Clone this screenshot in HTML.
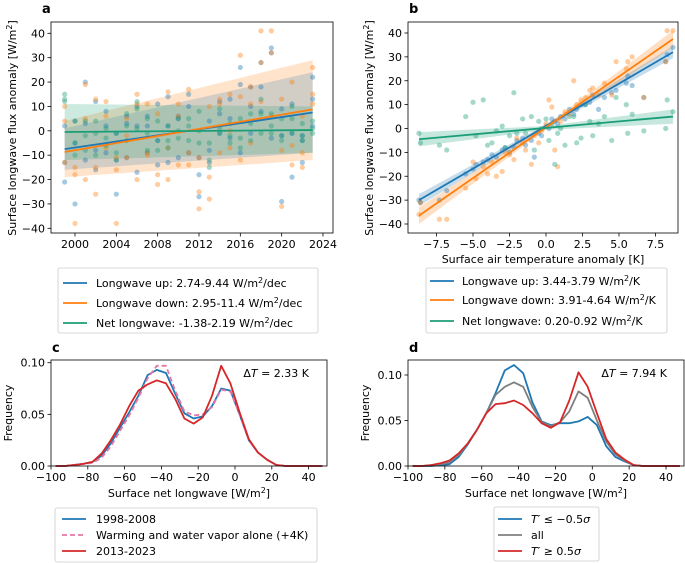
<!DOCTYPE html>
<html><head><meta charset="utf-8">
<style>
html,body{margin:0;padding:0;background:#fff;}
svg{display:block;font-family:"DejaVu Sans","Liberation Sans",sans-serif;}
</style></head>
<body>
<svg id="fig" width="685" height="563" viewBox="0 0 685 563" xmlns="http://www.w3.org/2000/svg"></svg>
<script>
// ---------- Panel a data ----------
const aYears = [1999,2000,2001,2002,2003,2004,2005,2006,2007,2008,2009,2010,2011,2012,2013,2014,2015,2016,2017,2018,2019,2020,2021,2022,2023];
const aUp = [[2,-21,-13],[-30,-5,4],[20,-12,3],[12,-16,-8],[8,-9,2],[-26,-12,-1],[3,-11,6],[-17,2,10],[6,-9,2],[11,-14,-4],[14,-13,2],[5,-11,6],[15,-9,10],[-18,-27,-11],[-13,4,-8],[12,-1,7],[13,5,-3],[26,19,-9],[18,-1,10],[28,18,8],[34,32,-3],[9,-29,-2],[11,-19,-1],[-13,-4,-2],[22,13,2]];
const aDown = [[10,-13,4],[-38,-18,-15],[19,-20,5],[13,-26,-15],[12,-7,6],[-38,-16,-11],[5,-11,-2],[15,-20,11],[11,-9,-10],[7,-22,-18],[16,-20,-7],[11,-14,6],[17,-14,-9],[-25,-32,-11],[-28,-19,10],[13,11,-9],[15,0,-7],[31,14,-12],[18,11,-5],[41,28,12],[41,32,6],[-31,13,-8],[20,-14,-6],[-15,-9,6],[26,15,11]];
const aNet = [[13,15,12],[4,-10,-5],[4,-2,-8],[4,-10,-1],[1,-3,-6],[-9,-12,-1],[7,2,-4],[12,9,1],[5,-8,-1],[4,-8,-4],[2,-7,-4],[5,-3,0],[5,2,-4],[8,-5,0],[-15,-12,-5],[9,-1,1],[3,-5,-2],[5,-7,-3],[3,-4,7],[13,7,-1],[2,-1,7],[-2,5,-4],[10,5,-1],[-4,-2,3],[4,-1,1]];
const aFitYears = [1999,2023];
const aFitUp = [-7.5,7.5];
const aFitDown = [-8.7,8.8];
const aFitNet = [-0.5,0.3];
const aBandUpLo = [-16,-9], aBandUpHi = [1,24];
const aBandDownLo = [-19,-12], aBandDownHi = [4,29];
const aBandNetLo = [-12,-9], aBandNetHi = [11,10];
const aXTicks = [2000,2004,2008,2012,2016,2020,2024];
const fluxTicks = [-40,-30,-20,-10,0,10,20,30,40];

// ---------- Panel b data ----------
const bT = [-8.7,-8.6,-7.3,-6.8,-5.5,-5.0,-4.8,-4.3,-4.0,-3.7,-3.4,-3.0,-2.8,-2.5,-2.2,-2.0,-1.6,-1.4,-1.0,-0.8,-0.5,-0.3,0,0.2,0.4,0.6,0.8,1.0,1.3,1.6,1.9,2.1,2.4,2.7,3.0,3.2,3.6,4.0,4.5,4.8,5.5,5.6,5.9,6.7,8.2,8.3,8.7];
const bUp = [-30,-31,-30,-26,-19,-17,-15,-14,-13,-11,-12,-9,-8,-10,-8,-5,-4,-7,-5,-12,-2,-3,1,0,4,3,2,5,4,8,6,8,10,10,11,14,8,13,15,16,19,22,18,13,28,31,34];
const bDown = [-36,-31,-38,-38,-25,-14,-21,-16,-19,-14,-20,-18,-10,-11,-13,-4,-6,-9,-15,-3,-6,-1,2,12,9,-9,-16,3,7,6,20,10,12,13,16,17,14,19,14,28,25,28,30,13,28,41,41];
const bNet = [-2,-6,-7,-9,5,11,-3,12,-7,-6,-1,1,-8,-3,15,-2,4,-2,5,-9,3,0,4,-5,2,-15,-2,0,-7,5,5,-6,-4,10,3,-3,2,5,-5,13,10,-2,6,-1,0,12,7];
const bFitT = [-8.7,8.7];
const bFitUp = [-30,32];
const bFitDown = [-36.5,37.5];
const bFitNet = [-4.5,5];
const bBandW = [2.5,3.5,3];
const bXTicks = [-7.5,-5.0,-2.5,0.0,2.5,5.0,7.5];

// ---------- Panels c/d data ----------
const binCenters = [-97.5,-92.5,-87.5,-82.5,-77.5,-72.5,-67.5,-62.5,-57.5,-52.5,-47.5,-42.5,-37.5,-32.5,-27.5,-22.5,-17.5,-12.5,-7.5,-2.5,2.5,7.5,12.5,17.5,22.5,27.5,32.5,37.5,42.5,47.5];
const cEarly = [0,0,0.001,0.002,0.004,0.010,0.022,0.037,0.052,0.068,0.088,0.093,0.090,0.070,0.051,0.046,0.048,0.058,0.075,0.073,0.050,0.025,0.013,0.006,0.001,0,0,0,0,0];
const cWarm = [0,0,0.001,0.002,0.003,0.008,0.019,0.034,0.049,0.066,0.085,0.097,0.097,0.073,0.053,0.049,0.050,0.057,0.074,0.072,0.050,0.025,0.013,0.006,0.001,0,0,0,0,0];
const cLate = [0,0,0.001,0.002,0.004,0.012,0.025,0.040,0.058,0.073,0.079,0.083,0.080,0.065,0.046,0.041,0.047,0.068,0.097,0.080,0.052,0.026,0.013,0.006,0.001,0,0,0,0,0];
const dCold = [0,0,0,0.001,0.002,0.010,0.024,0.040,0.058,0.080,0.105,0.111,0.102,0.070,0.049,0.045,0.047,0.047,0.049,0.054,0.045,0.022,0.010,0.005,0.001,0,0,0,0,0];
const dAll = [0,0,0.001,0.002,0.004,0.012,0.025,0.040,0.058,0.078,0.087,0.092,0.087,0.065,0.048,0.044,0.048,0.060,0.082,0.075,0.050,0.027,0.013,0.006,0.001,0,0,0,0,0];
const dWarm = [0,0,0.001,0.003,0.006,0.014,0.025,0.040,0.058,0.068,0.069,0.072,0.067,0.058,0.047,0.042,0.048,0.072,0.103,0.087,0.058,0.030,0.015,0.007,0.001,0,0,0,0,0];
const histXTicks = [-100,-80,-60,-40,-20,0,20,40];
const cYTicks = [0.00,0.05,0.10];
const dYTicks = [0.00,0.05,0.10];

const NS = "http://www.w3.org/2000/svg";
const svg = document.getElementById('fig');
function mk(tag, attrs, parent){
  const e = document.createElementNS(NS, tag);
  for (const k in attrs) e.setAttribute(k, attrs[k]);
  (parent||svg).appendChild(e);
  return e;
}
function txt(s, x, y, size, anchor, parent, extra){
  const t = mk('text', Object.assign({x:x, y:y, 'font-size':size, 'text-anchor':anchor||'start', fill:'#000'}, extra||{}), parent);
  t.textContent = s;
  return t;
}
const C = {blue:'#1f77b4', orange:'#ff7f0e', green:'#1b9e77', red:'#d62728', pink:'#e377a6', gray:'#7f7f7f'};

// ---------- scales ----------
const axA = {l:51, r:333, t:22, b:233};
const ax = v => 75 + (v-2000)*10.333;
const ay = v => 130.8 - v*2.4375;
const axB = {l:408, r:678, t:22, b:233};
const bx = v => 546 + v*14.6;
const by = v => 128.5 - v*2.3875;
const axC = {l:51, r:327, t:360, b:466};
const cx = v => 51 + (v+100)*1.84;
const cy = v => 466 - v*1033;
const axD = {l:408, r:684, t:360, b:466};
const dx = v => 408 + (v+100)*1.843;
const dy = v => 466 - v*910;

function frame(a, name){
  const r = mk('rect', {x:a.l, y:a.t, width:a.r-a.l, height:a.b-a.t, fill:'none', stroke:'#000', 'stroke-width':0.8});
  
  
}
function xticks(a, ticks, f, fmt, name){
  const g = mk('g', {});
  
  
  ticks.forEach(v => {
    const x = f(v);
    mk('line', {x1:x, x2:x, y1:a.b, y2:a.b+3.5, stroke:'#000', 'stroke-width':0.8}, g);
    txt(fmt(v), x, a.b+15, 11, 'middle', g);
  });
}
function yticks(a, ticks, f, fmt, name){
  const g = mk('g', {});
  
  
  ticks.forEach(v => {
    const y = f(v);
    mk('line', {x1:a.l-3.5, x2:a.l, y1:y, y2:y, stroke:'#000', 'stroke-width':0.8}, g);
    txt(fmt(v), a.l-6, y+4, 11, 'end', g);
  });
}
const minus = s => String(s).replace('-', '\u2212');

// ---------- Panel a ----------
(function(){
  const g = mk('g', {});
  
  
  const band = (lo, hi, col, op, name) => {
    const p = mk('polygon', {points:[ax(aFitYears[0])+','+ay(lo[0]), ax(aFitYears[1])+','+ay(lo[1]), ax(aFitYears[1])+','+ay(hi[1]), ax(aFitYears[0])+','+ay(hi[0])].join(' '), fill:col, opacity:op}, g);
    
    
  };
  band(aBandDownLo, aBandDownHi, C.orange, 0.22, 'band-longwave-down');
  band(aBandUpLo, aBandUpHi, C.blue, 0.2, 'band-longwave-up');
  band(aBandNetLo, aBandNetHi, C.green, 0.22, 'band-net-longwave');
  const pts = (arr, col, name) => {
    aYears.forEach((yr, i) => arr[i].forEach(v => {
      const c = mk('circle', {cx:ax(yr), cy:ay(v), r:2.6, fill:col, opacity:0.4}, g);
      
      
    }));
  };
  pts(aUp, C.blue, 'point-longwave-up');
  pts(aDown, C.orange, 'point-longwave-down');
  pts(aNet, C.green, 'point-net-longwave');
  const fit = (vals, col, name) => {
    const l = mk('line', {x1:ax(aFitYears[0]), y1:ay(vals[0]), x2:ax(aFitYears[1]), y2:ay(vals[1]), stroke:col, 'stroke-width':1.8}, g);
    
    
  };
  fit(aFitUp, C.blue, 'fit-longwave-up');
  fit(aFitDown, C.orange, 'fit-longwave-down');
  fit(aFitNet, C.green, 'fit-net-longwave');
})();
frame(axA, 'panel-a-frame');
xticks(axA, aXTicks, ax, v => String(v), 'panel-a-x-ticks');
yticks(axA, fluxTicks, ay, minus, 'panel-a-y-ticks');

// ---------- Panel b ----------
(function(){
  const g = mk('g', {});
  
  
  const band = (vals, w, col, name) => {
    const p = mk('polygon', {points:[bx(bFitT[0])+','+by(vals[0]-w), bx(0)+','+by((vals[0]+vals[1])/2-0.8), bx(bFitT[1])+','+by(vals[1]-w), bx(bFitT[1])+','+by(vals[1]+w), bx(0)+','+by((vals[0]+vals[1])/2+0.8), bx(bFitT[0])+','+by(vals[0]+w)].join(' '), fill:col, opacity:0.25}, g);
    
    
  };
  band(bFitUp, bBandW[0], C.blue, 'band-longwave-up');
  band(bFitDown, bBandW[1], C.orange, 'band-longwave-down');
  band(bFitNet, bBandW[2], C.green, 'band-net-longwave');
  const pts = (arr, col, name) => bT.forEach((t, i) => {
    const c = mk('circle', {cx:bx(t), cy:by(arr[i]), r:2.6, fill:col, opacity:0.4}, g);
    
    
  });
  pts(bUp, C.blue, 'point-longwave-up');
  pts(bDown, C.orange, 'point-longwave-down');
  pts(bNet, C.green, 'point-net-longwave');
  const fit = (vals, col, name) => {
    const l = mk('line', {x1:bx(bFitT[0]), y1:by(vals[0]), x2:bx(bFitT[1]), y2:by(vals[1]), stroke:col, 'stroke-width':1.8}, g);
    
    
  };
  fit(bFitUp, C.blue, 'fit-longwave-up');
  fit(bFitDown, C.orange, 'fit-longwave-down');
  fit(bFitNet, C.green, 'fit-net-longwave');
})();
frame(axB, 'panel-b-frame');
xticks(axB, bXTicks, bx, v => minus(v.toFixed(1)), 'panel-b-x-ticks');
yticks(axB, fluxTicks, by, minus, 'panel-b-y-ticks');

// ---------- Histograms ----------
function hist(xf, yf, vals, col, name, dash){
  const d = binCenters.map((b, i) => (i ? 'L' : 'M') + xf(b).toFixed(1) + ',' + yf(vals[i]).toFixed(1)).join(' ');
  const p = mk('path', {d:d, fill:'none', stroke:col, 'stroke-width':1.8, 'stroke-dasharray':dash||'none', 'stroke-linejoin':'round'});
  
  
}
hist(cx, cy, cEarly, C.blue, 'line-1998-2008');
hist(cx, cy, cWarm, C.pink, 'line-warming-water-vapor', '5,3');
hist(cx, cy, cLate, C.red, 'line-2013-2023');
frame(axC, 'panel-c-frame');
xticks(axC, histXTicks, cx, minus, 'panel-c-x-ticks');
yticks(axC, cYTicks, cy, v => v.toFixed(2), 'panel-c-y-ticks');
hist(dx, dy, dCold, C.blue, 'line-cold');
hist(dx, dy, dAll, C.gray, 'line-all');
hist(dx, dy, dWarm, C.red, 'line-warm');
frame(axD, 'panel-d-frame');
xticks(axD, histXTicks, dx, minus, 'panel-d-x-ticks');
yticks(axD, dYTicks, dy, v => v.toFixed(2), 'panel-d-y-ticks');

// ---------- Labels ----------
function label(s, x, y, size, anchor, name, extra){
  const t = txt(s, x, y, size, anchor, svg, extra);
  
  
  return t;
}
label('a', 42, 13, 13, 'start', 'panel-a-label', {'font-weight':'bold'});
label('b', 409, 13, 13, 'start', 'panel-b-label', {'font-weight':'bold'});
label('c', 52, 352, 13, 'start', 'panel-c-label', {'font-weight':'bold'});
label('d', 409, 352, 13, 'start', 'panel-d-label', {'font-weight':'bold'});
const ya = label('', 16, 128, 11, 'middle', 'panel-a-y-axis-title', {transform:'rotate(-90 16 128)'});
ya.innerHTML = 'Surface longwave flux anomaly [W/m<tspan dy="-4" font-size="8">2</tspan><tspan dy="4">]</tspan>';
const yb = label('', 373, 128, 11, 'middle', 'panel-b-y-axis-title', {transform:'rotate(-90 373 128)'});
yb.innerHTML = 'Surface longwave flux anomaly [W/m<tspan dy="-4" font-size="8">2</tspan><tspan dy="4">]</tspan>';
label('Surface air temperature anomaly [K]', 543, 263, 11, 'middle', 'panel-b-x-axis-title');
const xc = label('', 189, 497, 11, 'middle', 'panel-c-x-axis-title');
xc.innerHTML = 'Surface net longwave [W/m<tspan dy="-4" font-size="8">2</tspan><tspan dy="4">]</tspan>';
const xd = label('', 546, 497, 11, 'middle', 'panel-d-x-axis-title');
xd.innerHTML = 'Surface net longwave [W/m<tspan dy="-4" font-size="8">2</tspan><tspan dy="4">]</tspan>';
label('Frequency', 12, 413, 11, 'middle', 'panel-c-y-axis-title', {transform:'rotate(-90 12 413)'});
label('Frequency', 369, 413, 11, 'middle', 'panel-d-y-axis-title', {transform:'rotate(-90 369 413)'});
const dtc = label('', 309, 377, 11, 'end', 'panel-c-delta-t');
dtc.innerHTML = 'Δ<tspan font-style="italic">T</tspan> = 2.33 K';
const dtd = label('', 667, 377, 11, 'end', 'panel-d-delta-t');
dtd.innerHTML = 'Δ<tspan font-style="italic">T</tspan> = 7.94 K';

// ---------- Legends ----------
function legend(box, items, name, lineX, textX){
  const g = mk('g', {});
  
  
  mk('rect', {x:box[0], y:box[1], width:box[2], height:box[3], fill:'#fff', stroke:'#ccc', 'stroke-width':0.8, rx:2}, g);
  items.forEach(it => {
    const e = mk('g', {}, g);
    
    
    mk('line', {x1:lineX, x2:lineX+24, y1:it.y, y2:it.y, stroke:it.c, 'stroke-width':1.8, 'stroke-dasharray':it.dash||'none'}, e);
    const t = txt('', textX, it.y+4, 11, 'start', e);
    t.innerHTML = it.h;
  });
}
const sup2 = 'W/m<tspan dy="-4" font-size="8">2</tspan><tspan dy="4">';
legend([58,268,260,65], [
  {y:283, c:C.blue, h:'Longwave up: 2.74-9.44 '+sup2+'/dec</tspan>'},
  {y:303, c:C.orange, h:'Longwave down: 2.95-11.4 '+sup2+'/dec</tspan>'},
  {y:323, c:C.green, h:'Net longwave: -1.38-2.19 '+sup2+'/dec</tspan>'}
], 'panel-a-legend', 63, 96);
legend([426,268,241,65], [
  {y:281, c:C.blue, h:'Longwave up: 3.44-3.79 '+sup2+'/K</tspan>'},
  {y:300, c:C.orange, h:'Longwave down: 3.91-4.64 '+sup2+'/K</tspan>'},
  {y:321, c:C.green, h:'Net longwave: 0.20-0.92 '+sup2+'/K</tspan>'}
], 'panel-b-legend', 430, 462);
legend([55,508,262,54], [
  {y:519, c:C.blue, h:'1998-2008'},
  {y:535, c:C.pink, dash:'5,3', h:'Warming and water vapor alone (+4K)'},
  {y:551, c:C.red, h:'2013-2023'}
], 'panel-c-legend', 62, 96);
legend([494,507,105,54], [
  {y:519, c:C.blue, h:'<tspan font-style="italic">T′</tspan> ≤ −0.5<tspan font-style="italic">σ</tspan>'},
  {y:535, c:C.gray, h:'all'},
  {y:551, c:C.red, h:'<tspan font-style="italic">T′</tspan> ≥ 0.5<tspan font-style="italic">σ</tspan>'}
], 'panel-d-legend', 498, 531);
</script>
</body></html>
